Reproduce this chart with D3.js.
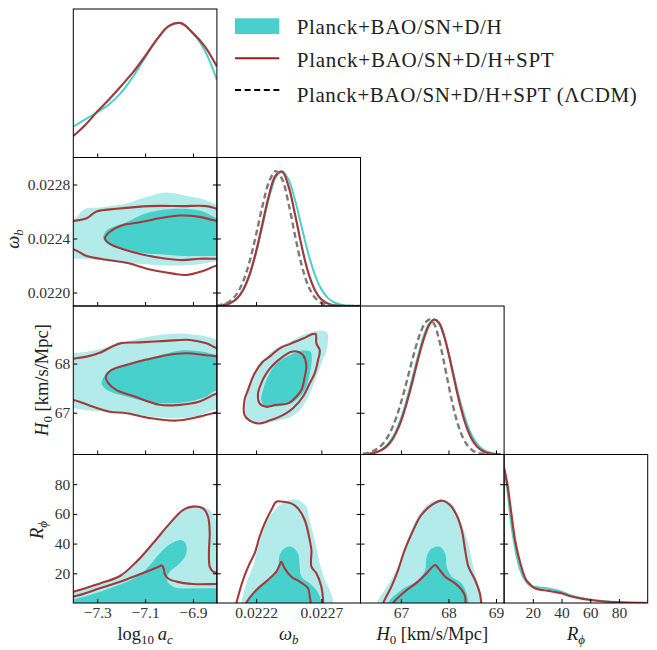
<!DOCTYPE html>
<html><head><meta charset="utf-8">
<script src="https://cdn.jsdelivr.net/npm/d3@7"></script>
<style>body{margin:0;background:#fff}svg{display:block}</style>
</head><body>
<svg id="chart" width="657" height="650"></svg>
<script>
// ---------- axis domains & ticks ----------
const acDomain = [-7.4, -6.8];
const omegaDomain = [0.0219, 0.0230];
const h0Domain = [66.15, 69.17];
const rDomain = [0, 100];
const pdfDomain = [0, 1.1];

const acTicks = [-7.3, -7.1, -6.9];
const omegaXTicks = [0.0222, 0.0227];
const omegaYTicks = [0.0220, 0.0224, 0.0228];
const h0XTicks = [67, 68, 69];
const h0YTicks = [67, 68];
const rTicks = [20, 40, 60, 80];

const legendLabels = ["Planck+BAO/SN+D/H", "Planck+BAO/SN+D/H+SPT", "Planck+BAO/SN+D/H+SPT (\u039BCDM)"];

// ---------- 1D marginals ----------
const acGrid = [-7.40,-7.35,-7.30,-7.25,-7.20,-7.15,-7.10,-7.05,-7.00,-6.95,-6.90,-6.85,-6.80];
const acTeal = [0.229,0.283,0.335,0.395,0.480,0.600,0.740,0.875,0.975,0.995,0.921,0.790,0.575];
const acRed  = [0.159,0.241,0.340,0.432,0.530,0.632,0.750,0.877,0.975,0.995,0.921,0.822,0.674];

const omegaGrid = [0.02190,0.02195,0.02200,0.02205,0.02210,0.02215,0.02220,0.02225,0.02230,0.02235,0.02240,0.02245,0.02250,0.02255,0.02260,0.02265,0.02270,0.02275,0.02280,0.02285,0.02290,0.02295,0.02300];
const omegaTeal = [0.002,0.008,0.021,0.053,0.117,0.228,0.393,0.598,0.803,0.953,0.999,0.933,0.779,0.582,0.389,0.233,0.125,0.060,0.026,0.010,0.003,0.001,0.0];
const omegaRed  = [0.002,0.007,0.020,0.052,0.117,0.232,0.403,0.615,0.824,0.967,0.994,0.882,0.672,0.440,0.247,0.119,0.049,0.018,0.005,0.001,0.0,0.0,0.0];
const omegaDash = [0.004,0.013,0.036,0.086,0.179,0.328,0.528,0.745,0.921,0.999,0.940,0.754,0.515,0.300,0.149,0.063,0.023,0.007,0.002,0.0,0.0,0.0,0.0];

const h0Grid = [66.2,66.3,66.4,66.5,66.6,66.7,66.8,66.9,67.0,67.1,67.2,67.3,67.4,67.5,67.6,67.7,67.8,67.9,68.0,68.1,68.2,68.3,68.4,68.5,68.6,68.7,68.8,68.9,69.0,69.1];
const h0Teal = [0.002,0.005,0.010,0.020,0.038,0.067,0.112,0.177,0.266,0.378,0.509,0.649,0.784,0.897,0.973,1.0,0.969,0.882,0.755,0.607,0.458,0.325,0.216,0.135,0.080,0.044,0.023,0.011,0.005,0.002];
const h0Red  = [0.002,0.004,0.009,0.018,0.034,0.060,0.101,0.162,0.246,0.354,0.481,0.621,0.758,0.877,0.962,0.999,0.977,0.889,0.751,0.590,0.431,0.293,0.185,0.108,0.059,0.030,0.014,0.006,0.0025,0.001];
const h0Dash = [0.006,0.012,0.023,0.042,0.072,0.118,0.184,0.272,0.383,0.511,0.648,0.780,0.892,0.969,1.0,0.966,0.855,0.695,0.518,0.354,0.222,0.128,0.067,0.032,0.014,0.006,0.002,0.001,0.0,0.0];

const rGrid = [0,2.5,5,7.5,10,12.5,15,17.5,20,25,30,35,40,45,50,60,70,80,90,100];
const rTeal = [0.995,0.817,0.580,0.416,0.291,0.211,0.164,0.133,0.123,0.115,0.110,0.098,0.084,0.061,0.046,0.026,0.013,0.005,0.0015,0.0];
const rRed  = [1.0,0.865,0.666,0.474,0.348,0.250,0.178,0.144,0.118,0.099,0.092,0.082,0.072,0.054,0.041,0.022,0.011,0.005,0.0015,0.0];

// ---------- 2D contours: log10 a_c vs omega_b ----------
const light10 = [[-7.50,0.02252],[-7.40,0.02254],[-7.351,0.02262],[-7.289,0.02263],[-7.178,0.02266],[-7.108,0.02270],[-7.011,0.02274],[-6.942,0.02272],[-6.858,0.02269],[-6.80,0.02265],[-6.70,0.02260],[-6.70,0.02221],[-6.80,0.02223],[-6.872,0.02221],[-6.942,0.02220],[-7.011,0.02220],[-7.108,0.02221],[-7.219,0.02222],[-7.289,0.02224],[-7.358,0.02225],[-7.40,0.02225],[-7.50,0.02225]];
const dark10 = [[-7.275,0.02240],[-7.261,0.02246],[-7.178,0.02252],[-7.108,0.02258],[-7.039,0.02261],[-6.942,0.02262],[-6.858,0.02260],[-6.80,0.02255],[-6.70,0.02252],[-6.70,0.02226],[-6.80,0.02227],[-6.872,0.02227],[-6.942,0.02227],[-7.011,0.02228],[-7.108,0.02229],[-7.178,0.02232],[-7.247,0.02235]];
const redOuter10 = [[-7.50,0.02253],[-7.40,0.02253],[-7.344,0.02255],[-7.303,0.02260],[-7.219,0.02262],[-7.080,0.02264],[-6.942,0.02264],[-6.844,0.02264],[-6.80,0.02262],[-6.70,0.02258],[-6.70,0.02223],[-6.80,0.02220],[-6.858,0.02216],[-6.928,0.02213],[-6.983,0.02214],[-7.080,0.02217],[-7.178,0.02222],[-7.289,0.02225],[-7.344,0.02227],[-7.40,0.02232],[-7.50,0.02235]];
const redInner10 = [[-6.70,0.02252],[-6.80,0.02253],[-6.872,0.02256],[-6.955,0.02257],[-7.039,0.02255],[-7.122,0.02252],[-7.191,0.02250],[-7.247,0.02245],[-7.268,0.02240],[-7.247,0.02236],[-7.191,0.02232],[-7.108,0.02228],[-7.011,0.02225],[-6.942,0.02224],[-6.872,0.02225],[-6.80,0.02225],[-6.70,0.02225]];

// ---------- log10 a_c vs H0 ----------
const light20 = [[-7.50,68.17],[-7.40,68.21],[-7.344,68.24],[-7.247,68.34],[-7.150,68.48],[-7.080,68.55],[-6.969,68.61],[-6.90,68.59],[-6.844,68.55],[-6.80,68.49],[-6.70,68.38],[-6.70,67.12],[-6.80,67.07],[-6.872,66.95],[-6.942,66.89],[-7.039,66.90],[-7.150,66.97],[-7.247,67.02],[-7.344,67.05],[-7.40,67.09],[-7.50,67.12]];
const dark20 = [[-7.282,67.60],[-7.261,67.80],[-7.205,67.95],[-7.122,68.07],[-7.039,68.17],[-6.942,68.27],[-6.858,68.24],[-6.80,68.17],[-6.70,68.10],[-6.70,67.52],[-6.80,67.46],[-6.844,67.33],[-6.914,67.23],[-7.011,67.19],[-7.094,67.23],[-7.178,67.33],[-7.247,67.43],[-7.275,67.53]];
const redOuter20 = [[-7.50,68.05],[-7.40,68.10],[-7.344,68.14],[-7.289,68.22],[-7.205,68.41],[-7.122,68.43],[-7.011,68.46],[-6.914,68.48],[-6.844,68.41],[-6.80,68.31],[-6.70,68.15],[-6.70,67.07],[-6.80,67.01],[-6.872,66.92],[-6.969,66.84],[-7.080,66.89],[-7.178,66.99],[-7.247,67.02],[-7.317,67.12],[-7.372,67.22],[-7.40,67.26],[-7.50,67.32]];
const redInner20 = [[-6.70,68.12],[-6.80,68.15],[-6.844,68.17],[-6.928,68.21],[-7.011,68.17],[-7.094,68.08],[-7.178,67.97],[-7.240,67.87],[-7.264,67.73],[-7.254,67.60],[-7.219,67.46],[-7.150,67.34],[-7.039,67.16],[-6.955,67.16],[-6.872,67.23],[-6.80,67.39],[-6.70,67.47]];

// ---------- log10 a_c vs R_phi ----------
const light30 = [[-7.50,5.0],[-7.40,7.6],[-7.289,13.2],[-7.205,18.9],[-7.150,25.6],[-7.080,36.8],[-7.011,50.3],[-6.955,60.4],[-6.907,65.5],[-6.858,64.9],[-6.823,61.5],[-6.805,55.9],[-6.80,51.4],[-6.70,40],[-6.70,-20],[-7.50,-20]];
const dark30 = [[-7.50,1.5],[-7.40,2.5],[-7.247,9.9],[-7.122,18.9],[-7.080,25.6],[-7.039,33.4],[-6.990,40.2],[-6.948,42.4],[-6.928,39.1],[-6.930,32.3],[-6.955,26.7],[-6.997,21.1],[-7.010,16.0],[-6.983,11.0],[-6.872,9.9],[-6.80,9.9],[-6.70,9.9],[-6.70,-20],[-7.50,-20]];
const redOuter30 = [[-7.50,5.0],[-7.40,7.6],[-7.289,13.2],[-7.205,18.2],[-7.136,27.8],[-7.067,40.2],[-6.997,53.6],[-6.942,62.6],[-6.90,64.9],[-6.858,63.7],[-6.837,58.1],[-6.830,46.9],[-6.833,35.7],[-6.830,24.5],[-6.816,21.1],[-6.80,20.4],[-6.75,20.2]];
const redInner30 = [[-7.50,2.5],[-7.40,4.3],[-7.289,9.9],[-7.178,15.9],[-7.094,21.1],[-7.045,24.3],[-7.030,25.3],[-7.022,23.0],[-7.018,19.5],[-7.004,16.5],[-6.969,14.4],[-6.90,12.8],[-6.80,12.8],[-6.75,12.8]];

// ---------- omega_b vs H0 ----------
const light21 = [[0.022751,68.51],[0.022739,68.27],[0.022700,68.00],[0.022662,67.73],[0.022624,67.46],[0.022585,67.26],[0.022534,67.05],[0.022470,66.92],[0.022381,66.85],[0.022279,66.80],[0.022202,66.78],[0.022146,66.84],[0.022120,66.99],[0.022125,67.26],[0.022138,67.46],[0.022176,67.73],[0.022227,68.00],[0.022291,68.17],[0.022355,68.31],[0.022458,68.44],[0.022534,68.55],[0.022611,68.63],[0.022700,68.67],[0.022744,68.63]];
const dark21 = [[0.022624,68.21],[0.022624,68.00],[0.022606,67.73],[0.022573,67.46],[0.022509,67.26],[0.022432,67.16],[0.022342,67.12],[0.022266,67.14],[0.022240,67.26],[0.022253,67.46],[0.022291,67.73],[0.022355,68.00],[0.022458,68.17],[0.022547,68.26],[0.022611,68.25]];
const redOuter21 = [[0.022657,68.60],[0.022662,68.41],[0.022688,68.27],[0.022675,68.07],[0.022649,67.80],[0.022611,67.60],[0.022560,67.33],[0.022483,67.09],[0.022406,66.95],[0.022304,66.84],[0.022215,66.78],[0.022151,66.84],[0.022112,66.95],[0.022112,67.26],[0.022138,67.46],[0.022189,67.80],[0.022253,68.04],[0.022304,68.14],[0.022381,68.31],[0.022470,68.41],[0.022560,68.51],[0.022636,68.60]];
const redInner21 = [[0.022521,68.24],[0.022560,68.17],[0.022585,67.97],[0.022573,67.73],[0.022547,67.46],[0.022509,67.33],[0.022445,67.19],[0.022355,67.16],[0.022279,67.12],[0.022227,67.19],[0.022215,67.39],[0.022240,67.60],[0.022279,67.80],[0.022330,67.97],[0.022406,68.14],[0.022470,68.24]];

// ---------- omega_b vs R_phi ----------
const light31 = [[0.02207,-10],[0.022087,0],[0.022125,13.2],[0.022176,24.5],[0.022215,37.9],[0.022253,49.2],[0.022304,58.1],[0.022381,66.0],[0.022458,69.4],[0.022521,69.4],[0.022585,64.9],[0.022611,55.9],[0.022649,42.4],[0.022688,26.7],[0.022726,15.5],[0.022764,8.8],[0.022785,3.1],[0.02279,-10]];
const dark31 = [[0.02211,-10],[0.022125,0],[0.022227,11.0],[0.022330,17.7],[0.022368,24.5],[0.022381,32.3],[0.022419,36.8],[0.022470,37.9],[0.022521,33.4],[0.022534,24.5],[0.022547,17.7],[0.022611,13.2],[0.022662,8.8],[0.022688,4.3],[0.022700,0],[0.02271,-10]];
const redOuter31 = [[0.022035,-5],[0.022049,0],[0.022100,15.5],[0.022151,26.7],[0.022189,33.4],[0.022227,44.7],[0.022266,53.6],[0.022317,62.6],[0.022355,68.2],[0.022406,68.2],[0.022470,67.1],[0.022521,63.7],[0.022573,55.9],[0.022611,42.4],[0.022624,35.7],[0.022624,24.5],[0.022662,20.0],[0.022700,11.0],[0.022713,2.0],[0.022710,-5]];
const redInner31 = [[0.02211,-5],[0.022125,0],[0.022202,8.8],[0.022291,15.5],[0.022355,21.1],[0.022381,25.6],[0.022394,27.8],[0.022419,23.3],[0.022470,17.7],[0.022534,14.4],[0.022598,9.9],[0.022611,4.3],[0.022619,0],[0.02262,-5]];

// ---------- H0 vs R_phi ----------
const light32 = [[66.45,-10],[66.49,0],[66.66,8.8],[66.87,20.0],[67.08,35.7],[67.22,49.2],[67.40,60.4],[67.65,68.2],[67.89,69.4],[68.07,67.1],[68.21,58.1],[68.35,46.9],[68.45,35.7],[68.52,24.5],[68.59,15.5],[68.66,6.5],[68.70,0],[68.72,-10]];
const dark32 = [[66.70,-10],[66.73,0],[67.01,8.8],[67.36,15.5],[67.51,22.2],[67.54,31.2],[67.65,36.8],[67.82,37.9],[67.94,32.3],[67.96,24.5],[68.07,17.7],[68.28,13.2],[68.38,6.5],[68.42,0],[68.44,-10]];
const redOuter32 = [[66.60,-5],[66.63,0],[66.80,11.0],[66.94,22.2],[67.08,35.7],[67.26,49.2],[67.43,59.3],[67.65,66.0],[67.87,68.9],[68.03,66.0],[68.17,59.3],[68.28,49.2],[68.35,35.7],[68.42,24.5],[68.56,15.5],[68.66,6.5],[68.69,0],[68.70,-5]];
const redInner32 = [[66.81,-5],[66.84,0],[67.08,7.6],[67.36,14.4],[67.54,20.0],[67.72,25.6],[67.79,23.3],[67.93,17.7],[68.14,13.2],[68.28,8.8],[68.35,4.3],[68.36,0],[68.37,-5]];

// ---------- styling / layout ----------
const TEAL = "#48d1cc", TEAL_LIGHT = "#b2ebe9", RED = "#a23a3a", RED_LEG = "#a31c1c", GREY = "#7a7a7a";
const SERIF = "'Liberation Serif', 'DejaVu Serif', serif";
const X0 = 73.3, Y0 = 9, W = 143.6, H = 148.5;

const vars = [
  {domain: acDomain, xticks: acTicks, yticks: acTicks, fmt: d3.format(".1f")},
  {domain: omegaDomain, xticks: omegaXTicks, yticks: omegaYTicks, fmt: d3.format(".4f")},
  {domain: h0Domain, xticks: h0XTicks, yticks: h0YTicks, fmt: d3.format(".0f")},
  {domain: rDomain, xticks: rTicks, yticks: rTicks, fmt: d3.format(".0f")}
];

const diag = [
  {grid: acGrid, curves: [{v: acTeal, c: TEAL, w: 2}, {v: acRed, c: RED, w: 2.2}]},
  {grid: omegaGrid, curves: [{v: omegaTeal, c: TEAL, w: 2}, {v: omegaRed, c: RED, w: 2.2}, {v: omegaDash, c: GREY, w: 2.4, dash: "6,3.5"}]},
  {grid: h0Grid, curves: [{v: h0Teal, c: TEAL, w: 2}, {v: h0Red, c: RED, w: 2.2}, {v: h0Dash, c: GREY, w: 2.4, dash: "6,3.5"}]},
  {grid: rGrid, curves: [{v: rTeal, c: TEAL, w: 2}, {v: rRed, c: RED, w: 2.2}], mono: true}
];

const panels2D = {
  "1,0": {light: light10, dark: dark10, red: [{p: redOuter10, closed: true}, {p: redInner10, closed: true}]},
  "2,0": {light: light20, dark: dark20, red: [{p: redOuter20, closed: true}, {p: redInner20, closed: true}]},
  "3,0": {light: light30, dark: dark30, red: [{p: redOuter30, closed: false}, {p: redInner30, closed: false}]},
  "2,1": {light: light21, dark: dark21, red: [{p: redOuter21, closed: true}, {p: redInner21, closed: true}]},
  "3,1": {light: light31, dark: dark31, red: [{p: redOuter31, closed: false}, {p: redInner31, closed: false}]},
  "3,2": {light: light32, dark: dark32, red: [{p: redOuter32, closed: false}, {p: redInner32, closed: false}]}
};

const svg = d3.select("#chart");
svg.append("rect").attr("width", 657).attr("height", 650).attr("fill", "#fff");
const defs = svg.append("defs");

function styleAxis(g) {
  g.select(".domain").remove();
  g.selectAll(".tick line").attr("stroke", "#000").attr("stroke-width", 1);
  g.attr("font-family", SERIF).attr("font-size", 15.5);
  g.selectAll("text").attr("fill", "#333");
}

for (let i = 0; i < 4; i++) {
  for (let j = 0; j <= i; j++) {
    const g = svg.append("g").attr("transform", `translate(${X0 + j * W},${Y0 + i * H})`);
    const cid = `clip-${i}-${j}`;
    defs.append("clipPath").attr("id", cid).append("rect").attr("width", W).attr("height", H);
    const x = d3.scaleLinear(vars[j].domain, [0, W]);
    const yRow = d3.scaleLinear(vars[i].domain, [H, 0]);
    const plot = g.append("g").attr("clip-path", `url(#${cid})`);

    if (i === j) {
      const y = d3.scaleLinear(pdfDomain, [H, 0]);
      const d = diag[i];
      d.curves.forEach(cv => {
        const line = d3.line()
          .x((_, k) => x(d.grid[k]))
          .y(v => y(v))
          .curve(d.mono ? d3.curveMonotoneX : d3.curveCatmullRom.alpha(0.5));
        plot.append("path").attr("d", line(cv.v)).attr("fill", "none")
          .attr("stroke", cv.c).attr("stroke-width", cv.w)
          .attr("stroke-dasharray", cv.dash || null);
      });
    } else {
      const p = panels2D[`${i},${j}`];
      const closed = d3.line().x(d => x(d[0])).y(d => yRow(d[1])).curve(d3.curveCatmullRomClosed.alpha(0.5));
      const open = d3.line().x(d => x(d[0])).y(d => yRow(d[1])).curve(d3.curveCatmullRom.alpha(0.5));
      plot.append("path").attr("d", closed(p.light)).attr("fill", TEAL_LIGHT);
      plot.append("path").attr("d", closed(p.dark)).attr("fill", TEAL);
      p.red.forEach(r => {
        plot.append("path").attr("d", (r.closed ? closed : open)(r.p))
          .attr("fill", "none").attr("stroke", RED).attr("stroke-width", 2.1)
          .attr("stroke-linejoin", "round");
      });
    }

    // frame
    g.append("rect").attr("width", W).attr("height", H).attr("fill", "none")
      .attr("stroke", "#000").attr("stroke-width", 1);

    // bottom ticks
    g.append("g").attr("transform", `translate(0,${H})`)
      .call(d3.axisBottom(x).tickValues(vars[j].xticks).tickSizeInner(-4).tickSizeOuter(0)
        .tickPadding(4).tickFormat(i === 3 ? vars[j].fmt : () => ""))
      .call(styleAxis);
    // left ticks
    if (i > 0) {
      g.append("g")
        .call(d3.axisLeft(yRow).tickValues(vars[i].yticks).tickSizeInner(-4).tickSizeOuter(0)
          .tickPadding(3).tickFormat(j === 0 ? vars[i].fmt : () => ""))
        .call(styleAxis);
    }
    // right ticks on 2D panels
    if (i !== j) {
      g.append("g").attr("transform", `translate(${W},0)`)
        .call(d3.axisRight(yRow).tickValues(vars[i].yticks).tickSizeInner(-4).tickSizeOuter(0).tickFormat(() => ""))
        .call(styleAxis);
    }
  }
}

// ---------- axis labels ----------
function mathText(sel, parts, size) {
  let cur = 0;
  parts.forEach(p => {
    const target = p.sub ? size * 0.2 : 0;
    const ts = sel.append("tspan").text(p.t).attr("dy", target - cur);
    if (p.sub) ts.attr("font-size", size * 0.7);
    if (p.it) ts.attr("font-style", "italic");
    cur = target;
  });
}
const labelParts = [
  [{t: "log"}, {t: "10", sub: 1}, {t: "\u2009"}, {t: "a", it: 1}, {t: "c", it: 1, sub: 1}],
  [{t: "\u03C9", it: 1}, {t: "b", it: 1, sub: 1}],
  [{t: "H", it: 1}, {t: "0", sub: 1}, {t: " [km/s/Mpc]"}],
  [{t: "R", it: 1}, {t: "\u03D5", it: 1, sub: 1}]
];
const LS = 18.5;
labelParts.forEach((parts, j) => {
  const t = svg.append("text").attr("x", X0 + j * W + W / 2).attr("y", 640)
    .attr("text-anchor", "middle").attr("font-family", SERIF).attr("font-size", LS).attr("fill", "#222");
  mathText(t, parts, LS);
});
const yLabelPos = [null, [19, 239], [48, 380], [43, 530]];
for (let i = 1; i < 4; i++) {
  const t = svg.append("text").attr("transform", `translate(${yLabelPos[i][0]},${yLabelPos[i][1]}) rotate(-90)`)
    .attr("text-anchor", "middle").attr("font-family", SERIF).attr("font-size", LS).attr("fill", "#222");
  mathText(t, labelParts[i], LS);
}

// ---------- legend ----------
const leg = svg.append("g");
leg.append("rect").attr("x", 235).attr("y", 18.3).attr("width", 44.3).attr("height", 15.7).attr("fill", TEAL);
leg.append("line").attr("x1", 235).attr("x2", 279.3).attr("y1", 58.3).attr("y2", 58.3)
  .attr("stroke", RED_LEG).attr("stroke-width", 2);
leg.append("line").attr("x1", 235).attr("x2", 279.3).attr("y1", 90).attr("y2", 90)
  .attr("stroke", "#000").attr("stroke-width", 2).attr("stroke-dasharray", "6,3.6");
const legBase = [34, 67, 101.5];
const legWidth = [205, 257, 340];
legendLabels.forEach((s, k) => {
  leg.append("text").attr("x", 296.7).attr("y", legBase[k]).attr("font-family", SERIF)
    .attr("font-size", 21).attr("fill", "#222").attr("textLength", legWidth[k])
    .attr("lengthAdjust", "spacing").text(s);
});
</script>
</body></html>
